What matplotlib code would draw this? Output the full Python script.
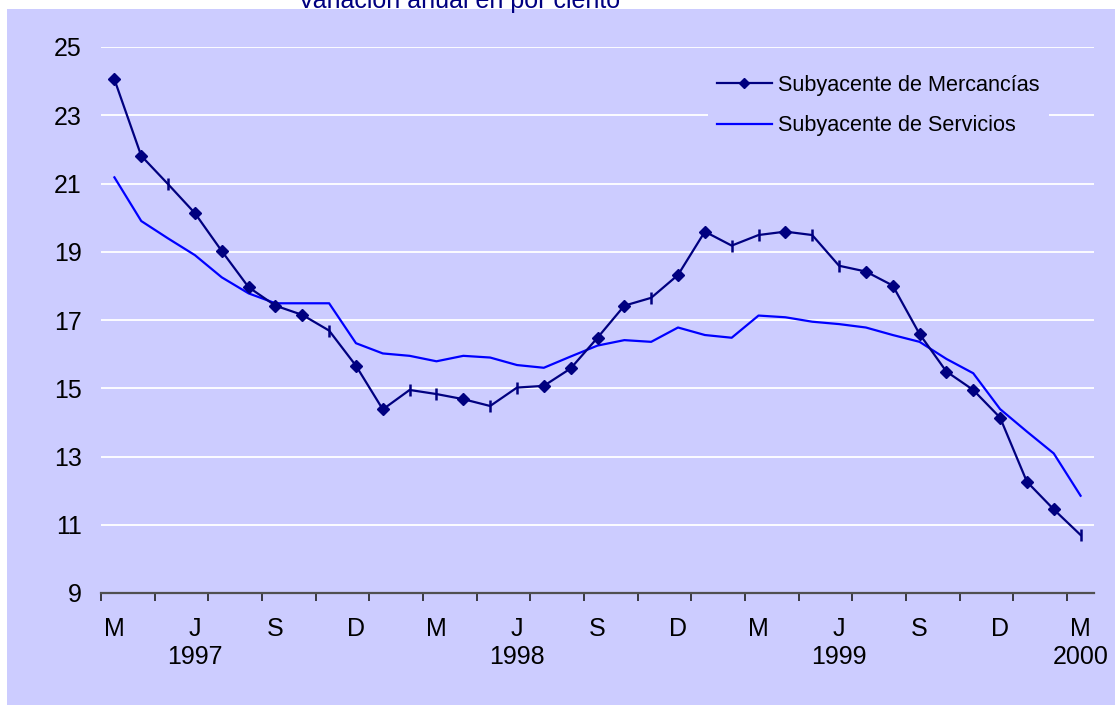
#! /usr/bin/python3

import matplotlib as mpl

## agg backend is used to create plot as a .png file
mpl.use('agg')

import matplotlib.pyplot as plt
from matplotlib.patches import Rectangle
import numpy as np

plt.rcParams['font.family'] = ['Liberation Sans', 'DejaVu Sans']

# monthly data, March 1997 .. March 2000
mercancias = [24.05, 21.81, 20.98, 20.13, 19.02, 17.96, 17.42, 17.15, 16.69,
              15.66, 14.38, 14.95, 14.83, 14.68, 14.48, 15.02, 15.07, 15.58,
              16.48, 17.42, 17.65, 18.32, 19.59, 19.18, 19.49, 19.59, 19.49,
              18.59, 18.42, 18.01, 16.59, 15.49, 14.95, 14.14, 12.26, 11.45,
              10.70]
servicios = [21.18, 19.90, 19.39, 18.90, 18.25, 17.78, 17.49, 17.49, 17.49,
             16.32, 16.02, 15.95, 15.79, 15.95, 15.90, 15.68, 15.60, 15.93,
             16.25, 16.41, 16.36, 16.78, 16.56, 16.48, 17.13, 17.08, 16.95,
             16.88, 16.78, 16.56, 16.36, 15.86, 15.44, 14.39, 13.73, 13.09,
             11.85]

# points of the first series that show as a bar instead of a diamond
bar_points = [2, 8, 11, 12, 14, 15, 20, 23, 24, 26, 27, 36]

tick_months = ['M', 'J', 'S', 'D', 'M', 'J', 'S', 'D', 'M', 'J', 'S', 'D', 'M']
tick_years = ['', '1997', '', '', '', '1998', '', '', '', '1999', '', '', '2000']

series_names = ['Subyacente de Mercancías', 'Subyacente de Servicios']
title = 'Variación anual en por ciento'

LAVENDER = '#CCCCFF'
NAVY = '#000080'
BLUE = '#0000FF'


def main():
    fig = plt.figure(figsize=(11.15, 7.05), dpi=100)
    fig.patch.set_facecolor('white')

    # lavender chart area (slightly offset from the top left corner)
    fig.add_artist(Rectangle((7 / 1115, 0), 1, 1 - 9 / 705,
                             transform=fig.transFigure,
                             facecolor=LAVENDER, edgecolor='none', zorder=0))

    # title sits mostly above the picture, only its lower part is visible
    fig.text(459 / 1115, 1 - 8 / 705, title, ha='center', va='baseline',
             color=NAVY, fontsize=18)

    ax = fig.add_axes([101 / 1115, 112 / 705, 993 / 1115, 546 / 705])
    ax.set_facecolor(LAVENDER)

    x = np.arange(len(mercancias))
    diamond_points = [i for i in x if i not in bar_points]

    ax.plot(x, servicios, color=BLUE, lw=1.6, label=series_names[1], zorder=3)
    ax.plot(x, mercancias, color=NAVY, lw=1.6, zorder=4)
    ax.plot(x, mercancias, color=NAVY, lw=0, marker='D', markersize=6.5,
            markevery=diamond_points, zorder=5)
    ax.plot(x, mercancias, color=NAVY, lw=0, marker='|', markersize=9,
            mew=1.8, markevery=bar_points, zorder=5)

    # legend entry for the first series
    h1, = ax.plot([], [], color=NAVY, lw=1.6, marker='D', markersize=5.5,
                  label=series_names[0])

    ax.set_xlim(-0.5, len(mercancias) - 0.5)
    ax.set_ylim(9, 25)
    ax.set_yticks(np.arange(9, 26, 2))
    ax.grid(axis='y', color='white', lw=1.3)
    ax.set_axisbelow(True)

    # ticks marks between every two categories, labels every quarter
    ax.set_xticks(np.arange(-0.5, len(mercancias) - 0.5, 2), minor=True)
    ax.set_xticks(np.arange(0, len(mercancias), 3))
    labels = [m if y == '' else m + '\n' + y
              for m, y in zip(tick_months, tick_years)]
    ax.set_xticklabels(labels)
    ax.tick_params(axis='x', which='major', length=0, pad=17,
                   labelsize=18)
    ax.tick_params(axis='x', which='minor', length=6, width=1.2,
                   color='#202020', direction='out')
    ax.tick_params(axis='y', length=0, pad=14, labelsize=18)
    for lab in ax.get_xticklabels():
        lab.set_verticalalignment('top')
        lab.set_horizontalalignment('center')
        lab.set_multialignment('center')
        lab.set_linespacing(1.25)

    for side in ['top', 'right', 'left']:
        ax.spines[side].set_visible(False)
    ax.spines['bottom'].set_color('#505050')
    ax.spines['bottom'].set_linewidth(1.6)

    handles = [h1, ax.get_lines()[0]]
    leg = ax.legend(handles, series_names, loc='upper left',
                    bbox_to_anchor=(708 / 1115, 1 - 66 / 705),
                    bbox_transform=fig.transFigure, borderaxespad=0,
                    fontsize=15.6, handlelength=2.55, handletextpad=0.3,
                    labelspacing=0.9, borderpad=0.4, frameon=True,
                    fancybox=False)
    leg.get_frame().set_facecolor(LAVENDER)
    leg.get_frame().set_edgecolor('none')
    leg.get_frame().set_alpha(1)

    fig.savefig('out.png', dpi=100)


if __name__ == "__main__":
    main()
